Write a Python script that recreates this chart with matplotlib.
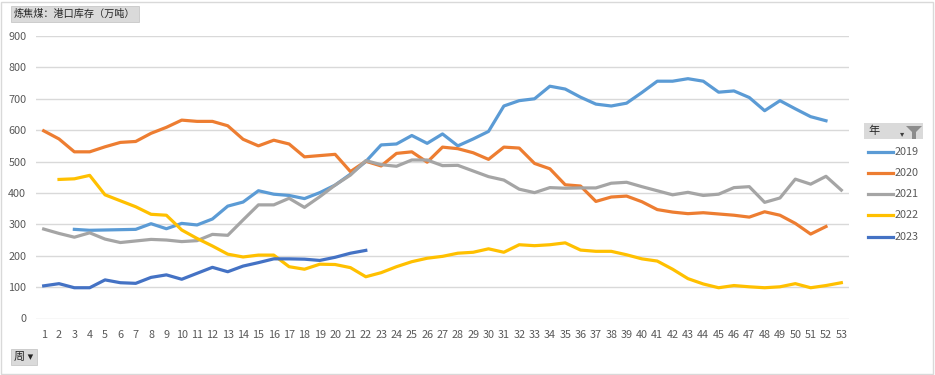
import matplotlib.pyplot as plt
from matplotlib.patches import Rectangle, Polygon

plt.rcParams['font.family'] = ['Noto Sans CJK SC', 'DejaVu Sans']

weeks = list(range(1, 54))

# 港口库存（万吨），按周，None 表示无数据
y2019 = [None, None, 284, 281, 282, 283, 284, 302, 286, 303,
         298, 317, 358, 371, 407, 396, 392, 382, 401, 425,
         460, 500, 553, 556, 583, 558, 588, 550, 572, 596,
         677, 694, 700, 740, 731, 705, 683, 677, 686, 720,
         756, 756, 764, 756, 721, 725, 704, 662, 694, 668,
         643, 630, None]
y2020 = [598, 572, 531, 531, 547, 561, 564, 590, 609, 632,
         628, 628, 614, 571, 550, 568, 556, 515, 519, 523,
         468, 501, 486, 526, 531, 498, 546, 541, 528, 507,
         546, 543, 494, 477, 426, 422, 373, 387, 390, 372,
         347, 339, 334, 337, 333, 329, 323, 340, 329, 303,
         269, 293, None]
y2021 = [285, 271, 259, 273, 253, 242, 247, 252, 250, 245,
         248, 268, 265, 314, 362, 362, 383, 354, 388, 425,
         457, 503, 490, 485, 505, 505, 487, 488, 470, 452,
         441, 412, 401, 417, 415, 416, 416, 431, 434, 420,
         407, 394, 402, 392, 396, 417, 420, 370, 384, 444,
         428, 453, 409]
y2022 = [None, 443, 445, 456, 394, 375, 356, 332, 329, 282,
         255, 231, 205, 196, 202, 202, 165, 157, 173, 172,
         162, 133, 146, 165, 181, 192, 198, 208, 211, 222,
         211, 235, 232, 235, 241, 218, 214, 214, 203, 190,
         183, 157, 127, 110, 98, 105, 101, 98, 101, 111,
         98, 105, 114]
y2023 = [104, 111, 98, 98, 123, 114, 112, 131, 139, 125,
         144, 163, 149, 167, 178, 190, 190, 189, 185, 195,
         208, 217] + [None] * 31

series = [("2019", y2019, "#5B9BD5"),
          ("2020", y2020, "#ED7D31"),
          ("2021", y2021, "#A5A5A5"),
          ("2022", y2022, "#FFC000"),
          ("2023", y2023, "#4472C4")]

fig = plt.figure(figsize=(9.35, 3.75), dpi=100)
ax = fig.add_axes([36 / 935, 1 - 318.5 / 375, 813 / 935, 282.5 / 375])

for name, vals, col in series:
    xs = [w for w, v in zip(weeks, vals) if v is not None]
    vs = [v for v in vals if v is not None]
    ax.plot(xs, vs, color=col, lw=2.3, solid_joinstyle='round', label=name, zorder=3)

ax.set_xlim(0.5, 53.5)
ax.set_ylim(0, 900)
ax.set_yticks(range(0, 901, 100))
ax.set_xticks(weeks)
ax.grid(axis='y', color='#D9D9D9', lw=1)
ax.set_axisbelow(True)
for s in ax.spines.values():
    s.set_visible(False)
ax.tick_params(length=0, colors='#595959', labelsize=7.8)
ax.tick_params(axis='y', pad=7)
ax.tick_params(axis='x', pad=8)

# 图表外框
fig.patches.append(Rectangle((1 / 935, 1 / 375), 932 / 935, 372 / 375,
                             transform=fig.transFigure, fill=False,
                             ec='#D9D9D9', lw=1))

# 标题按钮
fig.text(14 / 935, 1 - 14 / 375, "炼焦煤：港口库存（万吨）", fontsize=7.3,
         color='#262626', va='center', ha='left',
         bbox=dict(boxstyle='square,pad=0.3', fc='#DADADA', ec='#C8C8C8', lw=0.6))

# 周 按钮
fig.text(14 / 935, 1 - 357 / 375, "周 ▾", fontsize=8, color='#262626',
         va='center', ha='left',
         bbox=dict(boxstyle='square,pad=0.3', fc='#DADADA', ec='#C8C8C8', lw=0.6))

# 图例
fig.patches.append(Rectangle((864 / 935, 1 - 139 / 375), 59 / 935, 16 / 375,
                             transform=fig.transFigure, fc='#DADADA', ec='none'))
fig.text(868 / 935, 1 - 131 / 375, "年", fontsize=8, color='#262626', va='center')
fig.patches.append(Polygon([(906 / 935, 1 - 126 / 375), (922 / 935, 1 - 126 / 375),
                            (916 / 935, 1 - 132 / 375), (916 / 935, 1 - 139 / 375),
                            (912 / 935, 1 - 139 / 375), (912 / 935, 1 - 132 / 375)],
                           closed=True, transform=fig.transFigure, fc='#8C8C8C', ec='none'))
fig.text(900 / 935, 1 - 134 / 375, "▾", fontsize=6, color='#404040', va='center',
         family=['DejaVu Sans'])

ly = [152, 173, 194, 215, 237]
for (name, vals, col), yy in zip(series, ly):
    fig.add_artist(plt.Line2D([868 / 935, 893 / 935], [1 - yy / 375, 1 - yy / 375],
                              color=col, lw=2.3, transform=fig.transFigure))
    fig.text(895 / 935, 1 - yy / 375, name, fontsize=7.8, color='#595959', va='center')

fig.savefig("out.png", dpi=100)
